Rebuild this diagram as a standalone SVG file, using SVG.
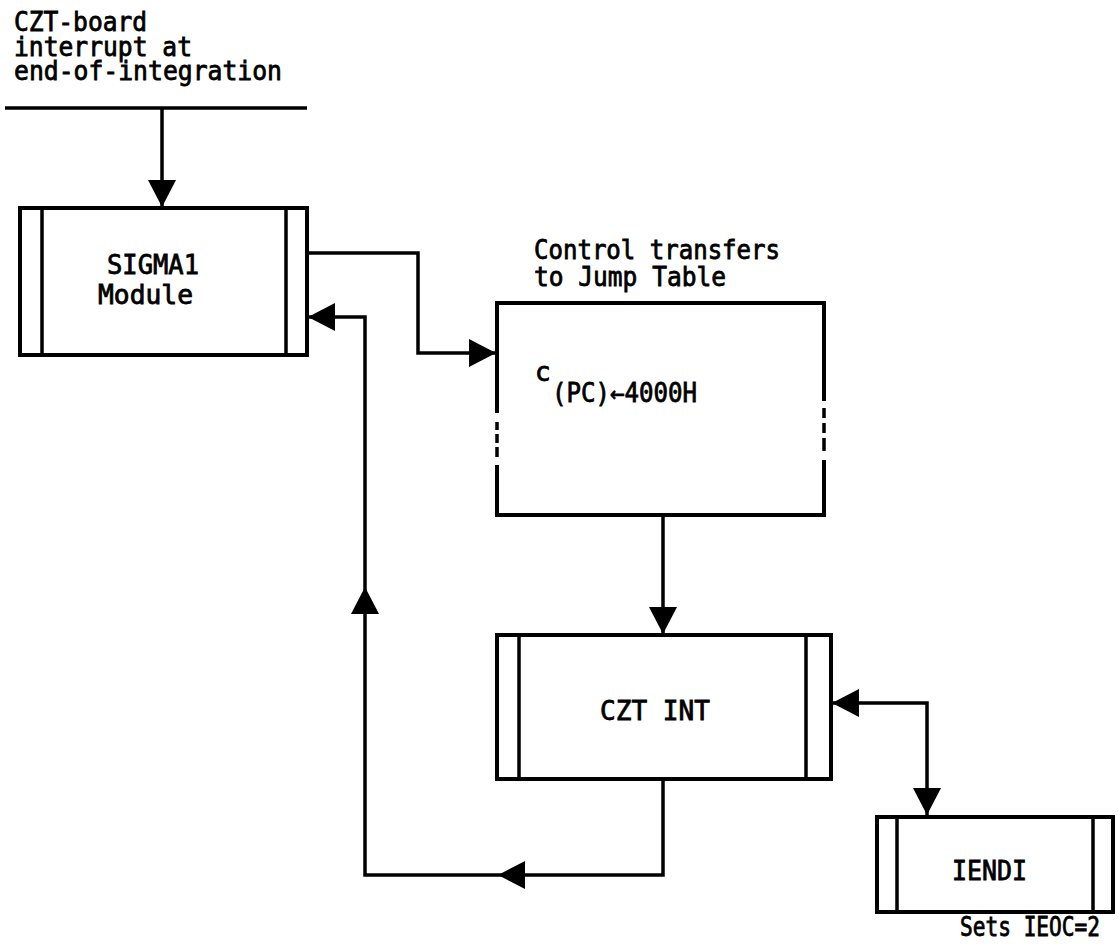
<svg xmlns="http://www.w3.org/2000/svg" width="1118" height="948" viewBox="0 0 1118 948">
<style>
.box{fill:#fff;stroke:#000;stroke-width:4}
.div{fill:none;stroke:#000;stroke-width:3.5}
.wire{fill:none;stroke:#000;stroke-width:3.5}
text{font-family:"DejaVu Sans Mono","Liberation Mono",monospace;font-size:26px;fill:#000;stroke:#000;stroke-width:0.8}
</style>
<defs>
<marker id="ah" markerUnits="userSpaceOnUse" viewBox="0 0 27 28" markerWidth="27" markerHeight="28" refX="27" refY="14" orient="auto-start-reverse" overflow="visible">
<path d="M0,0 L27,14 L0,28 z" fill="#000"/>
</marker>
</defs>
<rect width="1118" height="948" fill="#fff"/>

<g id="input-label">
<text x="14" y="31" textLength="133" lengthAdjust="spacingAndGlyphs">CZT-board</text>
<text x="14" y="56" textLength="178" lengthAdjust="spacingAndGlyphs">interrupt at</text>
<text x="14" y="80" textLength="268" lengthAdjust="spacingAndGlyphs">end-of-integration</text>
<path class="wire" d="M5,108 H307"/>
</g>

<g id="sigma1">
<rect class="box" x="20" y="208" width="287" height="147"/>
<path class="div" d="M42,208 V355 M286,208 V355"/>
<text x="107" y="274" textLength="92" lengthAdjust="spacingAndGlyphs">SIGMA1</text>
<text x="98" y="304" textLength="95" lengthAdjust="spacingAndGlyphs">Module</text>
</g>

<g id="jump-table">
<text x="534" y="259" textLength="246" lengthAdjust="spacingAndGlyphs">Control transfers</text>
<text x="534" y="286" textLength="192" lengthAdjust="spacingAndGlyphs">to Jump Table</text>
<rect x="497" y="303" width="327" height="212" fill="#fff"/>
<path class="box" fill="none" d="M497,413 V303 H824 V401 M824,460 V515 H497 V465"/>
<path class="div" d="M497,422 V430 M497,434 V443 M497,447 V457 M824,408 V418 M824,423 V433 M824,438 V451"/>
<text x="535" y="381" font-size="24">c</text>
<text x="552" y="402" textLength="145" lengthAdjust="spacingAndGlyphs">(PC)←4000H</text>
</g>

<g id="czt-int">
<rect class="box" x="497" y="635" width="334" height="144"/>
<path class="div" d="M519,635 V779 M806,635 V779"/>
<text x="600" y="720" textLength="110" lengthAdjust="spacingAndGlyphs">CZT INT</text>
</g>

<g id="iendi">
<rect class="box" x="877" y="817" width="236" height="95"/>
<path class="div" d="M897,817 V912 M1093,817 V912"/>
<text x="952" y="880" textLength="75" lengthAdjust="spacingAndGlyphs">IENDI</text>
<text x="960" y="936" font-size="25" textLength="140" lengthAdjust="spacingAndGlyphs">Sets IEOC=2</text>
</g>

<g id="connectors">
<path class="wire" d="M162,108 V207" marker-end="url(#ah)"/>
<path class="wire" d="M307,253 H418 V353 H496" marker-end="url(#ah)"/>
<path class="wire" d="M663,515 V634" marker-end="url(#ah)"/>
<path class="wire" d="M663,779 V875 H498" marker-end="url(#ah)"/>
<path class="wire" d="M498,875 H365 V587" marker-end="url(#ah)"/>
<path class="wire" d="M365,587 V317 H308" marker-end="url(#ah)"/>
<path class="wire" d="M832,703 H927 V815" marker-start="url(#ah)" marker-end="url(#ah)"/>
</g>
</svg>
